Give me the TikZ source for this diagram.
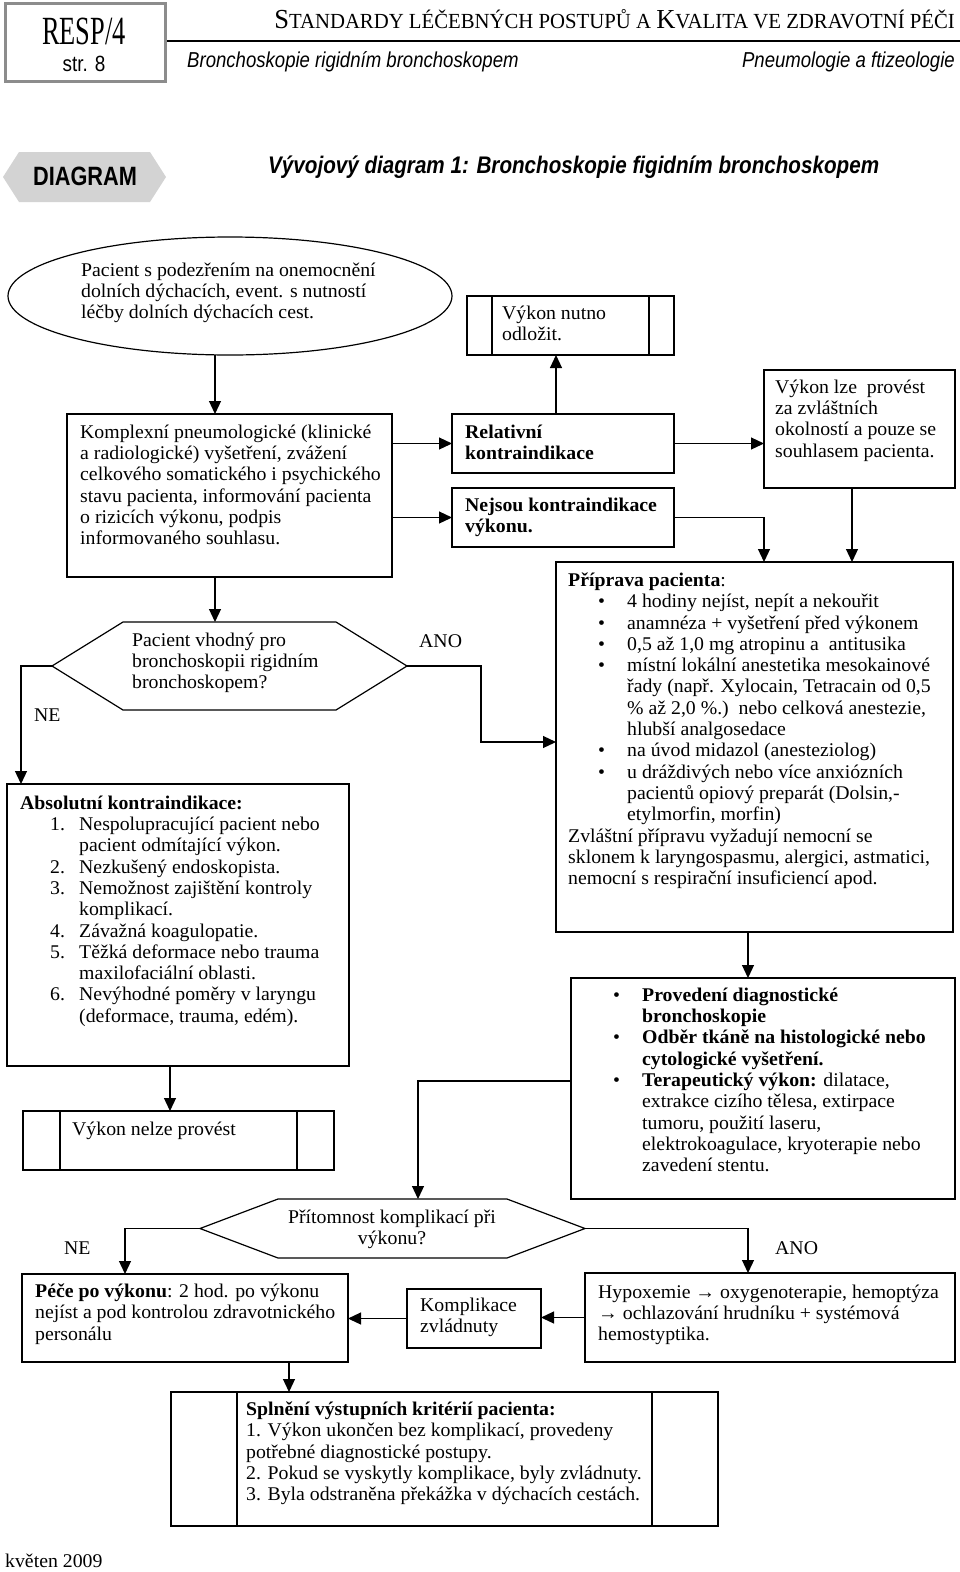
\documentclass[tikz,border=0pt]{standalone}
\usepackage{fontspec}
\setmainfont{Liberation Serif}[FakeStretch=1.02]
\newfontfamily\headserif{Liberation Serif}[FakeStretch=0.66]
\newfontfamily\capserif{Liberation Serif}[FakeStretch=0.965]
\newfontfamily\headsans{Liberation Sans}[FakeStretch=0.86]
\newfontfamily\tagsans{Liberation Sans}[FakeStretch=0.82]
\usepackage{tikz}
\usetikzlibrary{positioning,shapes.geometric,arrows.meta,calc}
\definecolor{framegray}{RGB}{140,140,140}
\definecolor{taggray}{RGB}{211,211,211}
\tikzstyle{arrow} = [line width=1.2pt,-{Triangle[length=13pt,width=12pt]}]
\tikzstyle{line} = [line width=1.2pt]
\newcommand{\itm}{\hspace*{30pt}\makebox[29pt][l]{\textbullet}}
\newcommand{\nr}[1]{\hspace*{30pt}\makebox[29pt][l]{#1}}
\newcommand{\indnt}{\hspace*{59pt}}
\newcommand{\hexline}[2]{\draw [line] (#1.west) -- ([xshift=#2]#1.north west) -- ([xshift=-#2]#1.north east) -- (#1.east) -- ([xshift=-#2]#1.south east) -- ([xshift=#2]#1.south west) -- cycle;}

\begin{document}
\begin{tikzpicture}[x=1pt,y=-1pt]
\tikzset{%
	box/.style = { rectangle, draw=black, line width=1.2pt, inner sep=0pt, outer sep=0pt, anchor=north west },
	procbox/.style = { box, path picture={\draw[line width=1.2pt] ([xshift=#1]path picture bounding box.north west) -- ([xshift=#1]path picture bounding box.south west) ([xshift=-#1]path picture bounding box.north east) -- ([xshift=-#1]path picture bounding box.south east);} },
	hexa/.style = { rectangle, inner sep=0pt, outer sep=0pt, anchor=north west },
	start/.style = { ellipse, draw=black, line width=1.2pt, inner sep=0pt, outer sep=0pt },
	txt/.style = { anchor=north west, align=left, inner sep=0pt, yshift=-3pt, font=\fontsize{19.4}{21.3}\selectfont, execute at begin node=\strut }
}
\useasboundingbox (0,0) rectangle (960,1572);

% header
\node(HeadBox)		[rectangle, draw=framegray, line width=3pt, inner sep=0pt, anchor=north west, minimum width=160pt, minimum height=78pt] at (4,2) {};
\node(Resp)			[anchor=base, inner sep=0pt] at (84,44) {\headserif\fontsize{40}{40}\selectfont RESP/4};
\node(Page)			[anchor=base, inner sep=0pt] at (84,71) {\headsans\fontsize{22}{22}\selectfont str. 8};
\node(StdTitle)		[anchor=base east, inner sep=0pt] at (955,28)
							{\capserif{\fontsize{27.5}{27.5}\selectfont S}\fontsize{21.5}{21.5}\selectfont TANDARDY LÉČEBNÝCH POSTUPŮ A {\fontsize{27.5}{27.5}\selectfont K}VALITA VE ZDRAVOTNÍ PÉČI};
\draw [line width=2.5pt] (HeadBox.east |- 0,41) -- (960,41);
\node(SubLeft)		[anchor=base west, inner sep=0pt] at (187,67) {\headsans\itshape\fontsize{21.6}{21.6}\selectfont Bronchoskopie rigidním bronchoskopem};
\node(SubRight)		[anchor=base east, inner sep=0pt] at (955,67) {\headsans\itshape\fontsize{21.6}{21.6}\selectfont Pneumologie a ftizeologie};

\fill [taggray] (3,177) -- (19,152) -- (150,152) -- (166,177) -- (150,202) -- (19,202) -- cycle;
\node(Tag)			[anchor=base, inner sep=0pt] at (85,185) {\tagsans\bfseries\fontsize{26.5}{26.5}\selectfont DIAGRAM};
\node(Caption)		[anchor=base west, inner sep=0pt] at (268,173) {\headsans\bfseries\itshape\fontsize{24}{24}\selectfont Vývojový diagram 1: Bronchoskopie figidním bronchoskopem};

% boxes
\node(Start)		[start, minimum width=444pt, minimum height=118pt] at (230,296) {};
\node(StartTxt)		[txt] at (81,259.6)
							{Pacient s podezřením na onemocnění\\dolních dýchacích, event. s nutností\\léčby dolních dýchacích cest.};

\node(Postpone)		[procbox=25pt, minimum width=207pt, minimum height=59pt] at (467,296) {};
\node(PostponeTxt)	[txt, below right=6.6pt and 35pt of Postpone.north west]
							{Výkon nutno\\odložit.};

\node(Exam)			[box, minimum width=325pt, minimum height=163pt] at (67,414) {};
\node(ExamTxt)		[txt, below right=7.6pt and 13pt of Exam.north west]
							{Komplexní pneumologické (klinické\\a radiologické) vyšetření, zvážení\\celkového somatického i psychického\\stavu pacienta, informování pacienta\\o rizicích výkonu, podpis\\informovaného souhlasu.};

\node(Relative)		[box, minimum width=222pt, minimum height=59pt] at (452,414) {};
\node(RelativeTxt)	[txt, below right=7.6pt and 13pt of Relative.north west]
							{\textbf{Relativní}\\\textbf{kontraindikace}};

\node(NoContra)		[box, minimum width=222pt, minimum height=59pt] at (452,488) {};
\node(NoContraTxt)	[txt, below right=6.6pt and 13pt of NoContra.north west]
							{\textbf{Nejsou kontraindikace}\\\textbf{výkonu.}};

\node(Consent)		[box, minimum width=191pt, minimum height=118pt] at (764,370) {};
\node(ConsentTxt)	[txt, below right=6.6pt and 11pt of Consent.north west]
							{Výkon lze\ \ provést\\za zvláštních\\okolností a pouze se\\souhlasem pacienta.};

\node(Prep)			[box, minimum width=397pt, minimum height=370pt] at (556,562) {};
\node(PrepTxt)		[txt, below right=7.6pt and 12pt of Prep.north west]
							{\textbf{Příprava pacienta}:\\
							\itm 4 hodiny nejíst, nepít a nekouřit\\
							\itm anamnéza + vyšetření před výkonem\\
							\itm 0,5 až 1,0 mg atropinu a\ \ antitusika\\
							\itm místní lokální anestetika mesokainové\\
							\indnt řady (např. Xylocain, Tetracain od 0,5\\
							\indnt \% až 2,0 \%.)\ \ nebo celková anestezie,\\
							\indnt hlubší analgosedace\\
							\itm na úvod midazol (anesteziolog)\\
							\itm u dráždivých nebo více anxiózních\\
							\indnt pacientů opiový preparát (Dolsin,-\\
							\indnt etylmorfin, morfin)\\
							Zvláštní přípravu vyžadují nemocní se\\
							sklonem k laryngospasmu, alergici, astmatici,\\
							nemocní s respirační insuficiencí apod.};

\node(Suitable)		[hexa, minimum width=355pt, minimum height=88pt] at (52,622) {};
\hexline{Suitable}{71pt}
\node(SuitableTxt)	[txt] at (132,629.6)
							{Pacient vhodný pro\\bronchoskopii rigidním\\bronchoskopem?};
\node(YesA)			[txt] at (419,629.6) {ANO};
\node(NoA)			[txt] at (34,703.6) {NE};

\node(Absolute)		[box, minimum width=342pt, minimum height=282pt] at (7,784) {};
\node(AbsoluteTxt)	[txt, below right=8.6pt and 13pt of Absolute.north west]
							{\textbf{Absolutní kontraindikace:}\\
							\nr{1.}Nespolupracující pacient nebo\\
							\indnt pacient odmítající výkon.\\
							\nr{2.}Nezkušený endoskopista.\\
							\nr{3.}Nemožnost zajištění kontroly\\
							\indnt komplikací.\\
							\nr{4.}Závažná koagulopatie.\\
							\nr{5.}Těžká deformace nebo trauma\\
							\indnt maxilofaciální oblasti.\\
							\nr{6.}Nevýhodné poměry v laryngu\\
							\indnt (deformace, trauma, edém).};

\node(Refused)		[procbox=37pt, minimum width=311pt, minimum height=59pt] at (23,1111) {};
\node(RefusedTxt)	[txt, below right=6.6pt and 49pt of Refused.north west]
							{Výkon nelze provést};

\node(Procedure)	[box, minimum width=384pt, minimum height=221pt] at (571,978) {};
\node(ProcedureTxt)	[txt, below right=6.6pt and 12pt of Procedure.north west]
							{\itm\textbf{Provedení diagnostické}\\
							\indnt\textbf{bronchoskopie}\\
							\itm\textbf{Odběr tkáně na histologické nebo}\\
							\indnt\textbf{cytologické vyšetření.}\\
							\itm\textbf{Terapeutický výkon:} dilatace,\\
							\indnt extrakce cizího tělesa, extirpace\\
							\indnt tumoru, použití laseru,\\
							\indnt elektrokoagulace, kryoterapie nebo\\
							\indnt zavedení stentu.};

\node(Complic)		[hexa, minimum width=385pt, minimum height=59pt] at (200,1199) {};
\hexline{Complic}{78pt}
\node(ComplicTxt)	[txt, anchor=north, align=center] at (392,1206.6)
							{Přítomnost komplikací při\\výkonu?};
\node(NoB)			[txt] at (64,1236.6) {NE};
\node(YesB)			[txt] at (775,1236.6) {ANO};

\node(Care)			[box, minimum width=326pt, minimum height=88pt] at (22,1274) {};
\node(CareTxt)		[txt, below right=6.6pt and 13pt of Care.north west]
							{\textbf{Péče po výkonu}: 2 hod. po výkonu\\nejíst a pod kontrolou zdravotnického\\personálu};

\node(Managed)		[box, minimum width=134pt, minimum height=59pt] at (407,1289) {};
\node(ManagedTxt)	[txt, below right=5.6pt and 13pt of Managed.north west]
							{Komplikace\\zvládnuty};

\node(Hypox)		[box, minimum width=370pt, minimum height=89pt] at (585,1273) {};
\node(HypoxTxt)		[txt, below right=8.6pt and 13pt of Hypox.north west]
							{Hypoxemie → oxygenoterapie, hemoptýza\\→ ochlazování hrudníku + systémová\\hemostyptika.};

\node(Discharge)	[procbox=66pt, minimum width=547pt, minimum height=134pt] at (171,1392) {};
\node(DischargeTxt)	[txt, below right=6.6pt and 75pt of Discharge.north west]
							{\textbf{Splnění výstupních kritérií pacienta:}\\
							1. Výkon ukončen bez komplikací, provedeny\\
							potřebné diagnostické postupy.\\
							2. Pokud se vyskytly komplikace, byly zvládnuty.\\
							3. Byla odstraněna překážka v dýchacích cestách.};

\node(Date)			[txt] at (5,1549.6) {květen 2009};

% connectors
\draw [arrow]	([xshift=-15pt]Start.south) -- ([xshift=-15pt]Start.south |- Exam.north);
\draw [arrow]	(Exam.east |- Relative.west) -- (Relative.west);
\draw [arrow]	(Exam.east |- NoContra.west) -- (NoContra.west);
\draw [arrow]	([xshift=-7pt]Relative.north) -- ([xshift=-7pt]Relative.north |- Postpone.south);
\draw [arrow]	(Relative.east) -- (Relative.east -| Consent.west);
\draw [arrow]	(NoContra.east) -| (Consent.west |- Prep.north);
\draw [arrow]	([xshift=-7.5pt]Consent.south) -- ([xshift=-7.5pt]Consent.south |- Prep.north);
\draw [arrow]	([xshift=-14.5pt]Exam.south) -- ([xshift=-14.5pt]Exam.south |- Suitable.north);
\draw [arrow]	(Suitable.east) -- ++(74,0) |- ([yshift=5pt]Prep.west);
\draw [arrow]	(Suitable.west) -| ([xshift=14pt]Absolute.north west);
\draw [arrow]	([xshift=-8pt]Absolute.south) -- ([xshift=-8pt]Absolute.south |- Refused.north);
\draw [arrow]	([xshift=-6.5pt]Prep.south) -- ([xshift=-6.5pt]Prep.south |- Procedure.north);
\draw [arrow]	([yshift=7.5pt]Procedure.west) -| ([xshift=25.5pt]Complic.north);
\draw [arrow]	(Complic.west) -| ([xshift=103pt]Care.north west);
\draw [arrow]	(Complic.east) -| ([xshift=163pt]Hypox.north west);
\draw [arrow]	(Hypox.west) -- (Hypox.west -| Managed.east);
\draw [arrow]	(Managed.west) -- (Managed.west -| Care.east);
\draw [arrow]	([xshift=267pt]Care.south west) -- ([xshift=267pt]Care.south west |- Discharge.north);

\end{tikzpicture}
\end{document}
